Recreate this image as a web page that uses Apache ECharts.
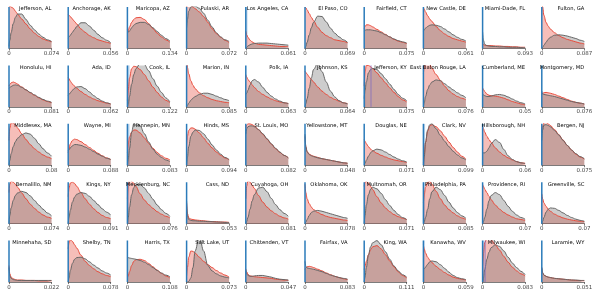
<!DOCTYPE html>
<html>
<head>
<meta charset="utf-8">
<script src="https://cdn.jsdelivr.net/npm/echarts@6/dist/echarts.min.js"></script>
<style>html,body{margin:0;padding:0;background:#fff}#c{width:598px;height:299px}</style>
</head>
<body>
<div id="c"></div>
<script>
// sample positions along each panel's x range (fraction of the panel maximum)
const X_FRAC = [0, 0.02, 0.05, 0.1, 0.15, 0.2, 0.3, 0.4, 0.5, 0.6, 0.7, 0.8, 0.9, 1];

const NAMES = [
  "Jefferson, AL","Anchorage, AK","Maricopa, AZ","Pulaski, AR","Los Angeles, CA","El Paso, CO","Fairfield, CT","New Castle, DE","Miami-Dade, FL","Fulton, GA",
  "Honolulu, HI","Ada, ID","Cook, IL","Marion, IN","Polk, IA","Johnson, KS","Jefferson, KY","East Baton Rouge, LA","Cumberland, ME","Montgomery, MD",
  "Middlesex, MA","Wayne, MI","Hennepin, MN","Hinds, MS","St. Louis, MO","Yellowstone, MT","Douglas, NE","Clark, NV","Hillsborough, NH","Bergen, NJ",
  "Bernalillo, NM","Kings, NY","Mecklenburg, NC","Cass, ND","Cuyahoga, OH","Oklahoma, OK","Multnomah, OR","Philadelphia, PA","Providence, RI","Greenville, SC",
  "Minnehaha, SD","Shelby, TN","Harris, TX","Salt Lake, UT","Chittenden, VT","Fairfax, VA","King, WA","Kanawha, WV","Milwaukee, WI","Laramie, WY"
];

const XMAX_LABELS = [
  "0.074","0.056","0.134","0.072","0.061","0.069","0.075","0.061","0.093","0.087",
  "0.081","0.062","0.122","0.085","0.063","0.064","0.075","0.076","0.05","0.076",
  "0.08","0.088","0.083","0.094","0.082","0.048","0.071","0.099","0.06","0.075",
  "0.074","0.091","0.076","0.053","0.081","0.078","0.071","0.085","0.07","0.07",
  "0.022","0.078","0.108","0.073","0.047","0.083","0.111","0.059","0.083","0.051"
];

// red density (relative height within panel)
const RED = [
  [1.0,1.02,1.0,0.97,0.9,0.83,0.71,0.59,0.47,0.37,0.29,0.23,0.19,0.16],
  [0.82,0.8,0.77,0.71,0.65,0.59,0.47,0.39,0.31,0.26,0.21,0.18,0.15,0.12],
  [0.35,0.42,0.52,0.63,0.7,0.74,0.75,0.7,0.6,0.48,0.37,0.28,0.21,0.15],
  [1.0,1.05,1.05,1.03,1.0,0.96,0.88,0.77,0.63,0.48,0.36,0.27,0.2,0.14],
  [0.42,0.33,0.27,0.2,0.16,0.13,0.1,0.09,0.08,0.07,0.06,0.05,0.05,0.04],
  [1.0,0.98,0.93,0.84,0.75,0.67,0.51,0.39,0.31,0.26,0.21,0.19,0.17,0.14],
  [0.48,0.53,0.57,0.57,0.55,0.52,0.46,0.4,0.34,0.28,0.22,0.18,0.15,0.12],
  [1.0,0.95,0.88,0.79,0.71,0.65,0.53,0.43,0.35,0.29,0.24,0.21,0.18,0.15],
  [0.12,0.09,0.08,0.07,0.07,0.07,0.06,0.06,0.05,0.05,0.04,0.04,0.03,0.03],
  [1.2,1.0,0.8,0.63,0.54,0.47,0.38,0.31,0.26,0.22,0.19,0.16,0.13,0.11],

  [0.5,0.54,0.58,0.6,0.58,0.55,0.48,0.41,0.34,0.28,0.22,0.17,0.13,0.1],
  [0.72,0.68,0.62,0.55,0.5,0.45,0.37,0.3,0.24,0.19,0.15,0.12,0.09,0.07],
  [0.15,0.4,0.7,0.92,0.98,0.97,0.9,0.78,0.63,0.48,0.35,0.24,0.16,0.1],
  [1.2,0.95,0.8,0.63,0.52,0.44,0.34,0.27,0.22,0.18,0.15,0.13,0.11,0.1],
  [0.78,0.72,0.66,0.6,0.53,0.47,0.37,0.3,0.24,0.19,0.15,0.12,0.1,0.08],
  [0.86,0.83,0.79,0.72,0.66,0.6,0.48,0.38,0.3,0.23,0.18,0.14,0.1,0.08],
  [0.5,0.85,1.0,1.0,0.97,0.92,0.82,0.7,0.58,0.46,0.35,0.25,0.17,0.12],
  [0.8,0.95,1.05,1.1,1.02,0.93,0.78,0.64,0.5,0.39,0.31,0.25,0.21,0.17],
  [0.46,0.42,0.37,0.31,0.28,0.27,0.26,0.24,0.21,0.17,0.13,0.1,0.07,0.05],
  [0.3,0.33,0.34,0.35,0.34,0.33,0.3,0.26,0.22,0.18,0.14,0.11,0.09,0.07],

  [0.6,0.9,1.02,1.02,0.97,0.9,0.76,0.62,0.5,0.4,0.32,0.25,0.2,0.16],
  [0.3,0.4,0.52,0.6,0.63,0.62,0.57,0.5,0.43,0.36,0.29,0.23,0.18,0.14],
  [0.3,0.5,0.68,0.8,0.85,0.85,0.78,0.66,0.53,0.41,0.31,0.23,0.17,0.13],
  [0.5,0.7,0.84,0.9,0.9,0.87,0.78,0.66,0.53,0.42,0.32,0.24,0.18,0.13],
  [0.9,0.97,1.0,1.0,0.98,0.95,0.86,0.75,0.63,0.51,0.4,0.31,0.24,0.18],
  [0.7,0.45,0.33,0.27,0.24,0.22,0.19,0.16,0.14,0.12,0.1,0.08,0.06,0.05],
  [0.62,0.58,0.52,0.45,0.39,0.35,0.29,0.24,0.2,0.16,0.13,0.11,0.09,0.07],
  [0.05,0.25,0.55,0.82,0.95,0.98,0.93,0.83,0.7,0.56,0.43,0.32,0.22,0.15],
  [0.95,0.88,0.8,0.7,0.62,0.55,0.42,0.32,0.24,0.18,0.13,0.09,0.06,0.05],
  [0.8,0.95,1.02,1.03,1.0,0.96,0.86,0.74,0.61,0.48,0.37,0.27,0.2,0.15],

  [0.75,0.95,1.02,1.0,0.95,0.88,0.74,0.6,0.47,0.37,0.28,0.21,0.16,0.13],
  [0.65,0.85,0.98,1.0,0.97,0.9,0.75,0.6,0.47,0.36,0.27,0.2,0.15,0.12],
  [0.6,0.95,1.05,1.02,0.97,0.9,0.72,0.57,0.46,0.37,0.29,0.23,0.18,0.14],
  [0.5,0.25,0.14,0.11,0.1,0.09,0.08,0.07,0.06,0.05,0.05,0.04,0.04,0.03],
  [0.6,0.9,1.03,1.0,0.93,0.85,0.68,0.52,0.4,0.31,0.24,0.18,0.14,0.11],
  [0.95,0.75,0.6,0.48,0.4,0.34,0.27,0.22,0.18,0.15,0.13,0.11,0.09,0.08],
  [0.9,1.0,1.02,0.98,0.9,0.82,0.65,0.5,0.38,0.29,0.22,0.17,0.13,0.1],
  [0.5,0.7,0.88,1.0,1.02,0.95,0.78,0.6,0.45,0.34,0.26,0.19,0.14,0.1],
  [0.95,0.9,0.83,0.75,0.66,0.58,0.45,0.35,0.27,0.21,0.16,0.12,0.1,0.08],
  [0.72,0.6,0.5,0.42,0.35,0.3,0.23,0.18,0.14,0.11,0.09,0.07,0.06,0.05],

  [0.4,0.2,0.12,0.08,0.06,0.05,0.05,0.04,0.04,0.04,0.03,0.03,0.03,0.03],
  [0.8,0.95,1.02,0.98,0.9,0.82,0.65,0.5,0.4,0.32,0.25,0.2,0.16,0.13],
  [0.1,0.15,0.25,0.4,0.5,0.54,0.55,0.52,0.45,0.37,0.29,0.21,0.15,0.1],
  [0.15,0.35,0.6,0.75,0.74,0.7,0.6,0.5,0.42,0.35,0.28,0.22,0.17,0.12],
  [0.32,0.25,0.19,0.15,0.14,0.13,0.12,0.11,0.1,0.09,0.07,0.06,0.05,0.04],
  [0.3,0.34,0.37,0.38,0.37,0.35,0.31,0.27,0.22,0.18,0.14,0.11,0.08,0.06],
  [0.3,0.38,0.5,0.66,0.78,0.85,0.88,0.8,0.66,0.51,0.37,0.25,0.16,0.1],
  [0.9,0.8,0.7,0.6,0.53,0.47,0.38,0.3,0.23,0.17,0.12,0.09,0.07,0.05],
  [0.4,0.7,0.95,1.05,1.05,1.02,0.9,0.77,0.62,0.48,0.36,0.27,0.2,0.15],
  [0.35,0.22,0.17,0.14,0.12,0.11,0.09,0.08,0.07,0.06,0.05,0.04,0.04,0.03]
];

// gray density (relative height within panel)
const GRAY = [
  [0.05,0.2,0.38,0.6,0.75,0.83,0.83,0.7,0.56,0.45,0.35,0.27,0.21,0.17],
  [0.25,0.28,0.32,0.39,0.46,0.53,0.62,0.62,0.54,0.44,0.34,0.26,0.2,0.14],
  [0.45,0.4,0.42,0.5,0.56,0.6,0.63,0.63,0.58,0.5,0.41,0.32,0.24,0.18],
  [0.5,0.7,0.9,1.0,1.02,1.02,0.97,0.85,0.68,0.52,0.38,0.28,0.21,0.17],
  [0.0,0.03,0.06,0.09,0.11,0.12,0.13,0.13,0.13,0.12,0.11,0.1,0.09,0.08],
  [0.0,0.05,0.15,0.33,0.5,0.63,0.78,0.77,0.64,0.49,0.37,0.28,0.21,0.15],
  [0.42,0.44,0.45,0.45,0.45,0.44,0.42,0.38,0.33,0.28,0.23,0.19,0.16,0.13],
  [0.42,0.45,0.49,0.53,0.56,0.57,0.56,0.53,0.47,0.4,0.33,0.27,0.22,0.18],
  [0.4,0.2,0.1,0.07,0.06,0.05,0.05,0.04,0.04,0.03,0.03,0.03,0.02,0.02],
  [0.0,0.03,0.08,0.15,0.22,0.27,0.32,0.33,0.32,0.3,0.27,0.24,0.2,0.17],

  [0.45,0.47,0.49,0.52,0.53,0.52,0.47,0.41,0.35,0.29,0.23,0.18,0.14,0.11],
  [0.28,0.3,0.34,0.4,0.45,0.48,0.49,0.44,0.36,0.27,0.2,0.14,0.1,0.07],
  [0.0,0.08,0.25,0.55,0.78,0.92,1.05,1.02,0.87,0.68,0.5,0.35,0.22,0.12],
  [0.0,0.04,0.09,0.16,0.21,0.25,0.3,0.33,0.33,0.3,0.26,0.22,0.18,0.15],
  [0.3,0.33,0.4,0.53,0.63,0.66,0.6,0.47,0.35,0.26,0.19,0.14,0.1,0.08],
  [0.0,0.08,0.2,0.45,0.7,0.9,1.05,0.85,0.6,0.38,0.24,0.15,0.1,0.07],
  [0.2,0.4,0.6,0.82,0.9,0.93,0.9,0.8,0.68,0.55,0.42,0.3,0.21,0.15],
  [0.0,0.1,0.25,0.42,0.53,0.6,0.65,0.63,0.56,0.48,0.41,0.34,0.28,0.22],
  [0.3,0.29,0.27,0.25,0.25,0.26,0.29,0.3,0.28,0.24,0.19,0.14,0.1,0.07],
  [0.38,0.31,0.3,0.29,0.28,0.27,0.25,0.22,0.19,0.16,0.13,0.11,0.09,0.07],

  [0.0,0.12,0.28,0.45,0.57,0.65,0.74,0.78,0.75,0.65,0.52,0.4,0.3,0.22],
  [0.35,0.38,0.42,0.47,0.5,0.5,0.48,0.44,0.39,0.33,0.27,0.22,0.17,0.14],
  [0.0,0.15,0.4,0.8,1.0,1.05,0.95,0.76,0.56,0.39,0.27,0.19,0.13,0.09],
  [0.0,0.2,0.45,0.7,0.8,0.85,0.84,0.76,0.63,0.49,0.37,0.27,0.19,0.14],
  [0.75,0.88,0.93,0.95,0.95,0.93,0.86,0.76,0.64,0.52,0.41,0.32,0.24,0.18],
  [0.75,0.45,0.32,0.26,0.23,0.21,0.18,0.16,0.14,0.12,0.1,0.08,0.06,0.05],
  [0.0,0.05,0.12,0.22,0.3,0.35,0.39,0.37,0.32,0.26,0.2,0.15,0.11,0.08],
  [0.0,0.2,0.55,0.85,0.98,1.0,0.88,0.72,0.58,0.45,0.34,0.25,0.18,0.13],
  [0.3,0.3,0.3,0.34,0.42,0.52,0.62,0.55,0.38,0.23,0.14,0.09,0.06,0.04],
  [0.6,0.85,0.97,0.98,0.96,0.93,0.84,0.73,0.6,0.48,0.37,0.28,0.21,0.16],

  [0.0,0.2,0.38,0.56,0.68,0.74,0.78,0.75,0.67,0.56,0.45,0.35,0.26,0.19],
  [0.0,0.15,0.32,0.52,0.64,0.71,0.75,0.73,0.66,0.56,0.46,0.36,0.28,0.21],
  [0.0,0.15,0.4,0.7,0.87,0.94,0.95,0.86,0.73,0.59,0.45,0.34,0.25,0.18],
  [0.55,0.2,0.1,0.08,0.07,0.07,0.06,0.06,0.05,0.05,0.04,0.04,0.03,0.03],
  [0.0,0.05,0.15,0.35,0.55,0.7,0.86,0.88,0.77,0.61,0.46,0.34,0.25,0.18],
  [0.0,0.04,0.1,0.2,0.27,0.3,0.32,0.3,0.27,0.24,0.21,0.18,0.15,0.13],
  [0.0,0.2,0.45,0.7,0.83,0.88,0.84,0.73,0.58,0.44,0.32,0.22,0.15,0.1],
  [0.0,0.05,0.15,0.35,0.6,0.77,0.88,0.82,0.68,0.52,0.38,0.27,0.19,0.13],
  [0.0,0.05,0.15,0.35,0.55,0.68,0.75,0.7,0.56,0.42,0.3,0.21,0.15,0.11],
  [0.0,0.06,0.15,0.28,0.35,0.38,0.37,0.32,0.26,0.2,0.15,0.11,0.08,0.06],

  [0.35,0.15,0.09,0.06,0.05,0.04,0.04,0.04,0.04,0.04,0.04,0.04,0.04,0.04],
  [0.0,0.1,0.28,0.45,0.55,0.59,0.6,0.56,0.49,0.41,0.34,0.27,0.22,0.17],
  [0.6,0.59,0.58,0.57,0.56,0.55,0.52,0.48,0.42,0.35,0.28,0.22,0.17,0.13],
  [0.0,0.0,0.02,0.1,0.35,0.75,1.1,0.75,0.4,0.27,0.2,0.15,0.12,0.1],
  [0.28,0.2,0.16,0.14,0.14,0.15,0.16,0.16,0.14,0.12,0.09,0.07,0.06,0.05],
  [0.5,0.38,0.34,0.33,0.32,0.31,0.28,0.25,0.21,0.17,0.14,0.11,0.09,0.07],
  [0.0,0.12,0.35,0.65,0.85,0.95,1.0,0.9,0.73,0.55,0.39,0.27,0.18,0.12],
  [0.3,0.32,0.36,0.43,0.49,0.51,0.49,0.42,0.33,0.24,0.16,0.11,0.08,0.06],
  [0.0,0.1,0.3,0.55,0.72,0.83,0.9,0.86,0.75,0.6,0.46,0.35,0.26,0.18],
  [0.35,0.23,0.17,0.14,0.12,0.11,0.09,0.08,0.07,0.06,0.05,0.05,0.04,0.04]
];

// panels with a wider light-blue spike band at zero (panel index -> width as fraction)
const BLUE_BAND = {4: 0.04, 12: 0.05, 16: 0.03, 22: 0.05, 27: 0.04, 32: 0.04, 36: 0.03, 37: 0.04, 47: 0.03, 48: 0.04};
// panels with an extra purple line (panel index -> x fraction)
const EXTRA_LINE = {16: 0.16, 48: 0.06};

const chart = echarts.init(document.getElementById('c'), null, {renderer: 'canvas'});
const grids = [], xAxes = [], yAxes = [], series = [], graphics = [];
const NC = 10, PW = 42.5, PH = 41.5, X0 = 9, DX = 59.2, Y0 = 7, DY = 58.4;
const FONT = '"DejaVu Sans", sans-serif';

for (let i = 0; i < NAMES.length; i++) {
  const r = Math.floor(i / NC), c = i % NC;
  const left = X0 + DX * c, top = Y0 + DY * r;
  grids.push({left: left, top: top, width: PW, height: PH, containLabel: false});
  xAxes.push({
    type: 'value', gridIndex: i, min: 0, max: 1, interval: 1,
    axisLine: {show: true, lineStyle: {color: '#444', width: 0.7}},
    axisTick: {show: true, length: 2, lineStyle: {color: '#444', width: 0.7}},
    axisLabel: {fontSize: 5.5, color: '#444', margin: 2, fontFamily: FONT, showMinLabel: true, showMaxLabel: true,
      formatter: (v) => v === 0 ? '0' : XMAX_LABELS[i]},
    splitLine: {show: false}
  });
  yAxes.push({type: 'value', gridIndex: i, min: 0, max: 1, show: false, splitLine: {show: false}});
  const red = X_FRAC.map((x, k) => [x, RED[i][k]]);
  const gray = X_FRAC.map((x, k) => [x, GRAY[i][k]]);
  const base = {type: 'line', xAxisIndex: i, yAxisIndex: i, symbol: 'none', smooth: 0.35, smoothMonotone: 'x', silent: true, animation: false};
  series.push(Object.assign({}, base, {data: red, z: 2, lineStyle: {width: 0}, areaStyle: {color: 'rgba(231,76,60,0.36)', opacity: 1}}));
  series.push(Object.assign({}, base, {data: gray, z: 3, lineStyle: {width: 0}, areaStyle: {color: 'rgba(100,100,100,0.32)', opacity: 1}}));
  series.push(Object.assign({}, base, {data: red, z: 4, lineStyle: {width: 1, color: '#e74c3c'}}));
  series.push(Object.assign({}, base, {data: gray, z: 5, lineStyle: {width: 1, color: '#666'}}));
  const blue = {type: 'line', xAxisIndex: i, yAxisIndex: i, symbol: 'none', silent: true, animation: false, z: 6,
    data: [[0, 0], [0, 1]], lineStyle: {width: 1.5, color: '#2b7bba'}};
  if (BLUE_BAND[i]) {
    blue.markArea = {silent: true, itemStyle: {color: 'rgba(90,150,210,0.4)'}, data: [[{xAxis: 0}, {xAxis: BLUE_BAND[i]}]]};
  }
  series.push(blue);
  if (EXTRA_LINE[i] !== undefined) {
    series.push({type: 'line', xAxisIndex: i, yAxisIndex: i, symbol: 'none', silent: true, animation: false, z: 7,
      data: [[EXTRA_LINE[i], 0], [EXTRA_LINE[i], 1]], lineStyle: {width: 1, color: 'rgba(130,110,190,0.8)'}});
  }
  graphics.push({type: 'text', x: left + PW, y: top + 2, z: 100,
    style: {text: NAMES[i], textAlign: 'right', textVerticalAlign: 'middle', font: '5.2px ' + FONT, fill: '#000'}});
}

chart.setOption({
  backgroundColor: '#fff',
  animation: false,
  grid: grids, xAxis: xAxes, yAxis: yAxes, series: series,
  graphic: graphics
});
</script>
</body>
</html>
